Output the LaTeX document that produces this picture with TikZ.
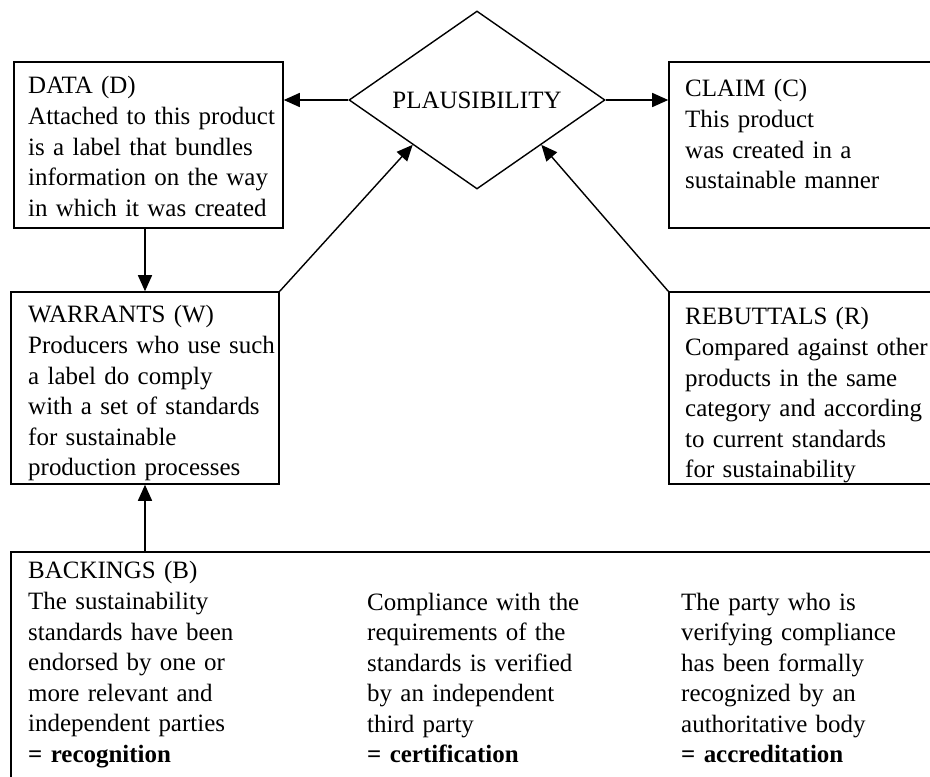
\documentclass[tikz,border=0pt]{standalone}
\usepackage{fontspec}
\setmainfont{Liberation Serif}
\usetikzlibrary{shapes.geometric,arrows.meta}

\begin{document}
\begin{tikzpicture}[font=\fontsize{21.3}{26.1}\selectfont,
  box/.style={draw, line width=1.3pt, inner sep=0pt},
  txt/.style={anchor=base west, inner sep=0pt, align=left, text width=8cm},
  arr/.style={-{Triangle[length=4.8mm,width=4.2mm]}, line width=1.2pt}]
\clip (0,0) rectangle (27.9,23.28);
\node[diamond, draw, line width=1.2pt, aspect=1.44, minimum width=7.68cm,
  minimum height=5.34cm, inner sep=0pt] (plaus) at (14.31,20.28) {PLAUSIBILITY};
\node[box, minimum width=8.07cm, minimum height=4.98cm] (data) at (4.455,18.93) {};
\node[box, minimum width=8.07cm, minimum height=4.98cm] (claim) at (24.105,18.93) {};
\node[box, minimum width=8.04cm, minimum height=5.76cm] (warr) at (4.35,11.64) {};
\node[box, minimum width=8.04cm, minimum height=5.76cm] (rebut) at (24.09,11.64) {};
\node[box, minimum width=27.87cm, minimum height=7.02cm] (back) at (14.265,3.21) {};
\node[txt] (dataT) at (0.84,20.46) {DATA (D)\\Attached to this product\\is a label that bundles\\information on the way\\in which it was created};
\node[txt] (claimT) at (20.55,20.37) {CLAIM (C)\\This product\\was created in a\\sustainable manner};
\node[txt] (warrT) at (0.84,13.59) {WARRANTS (W)\\Producers who use such\\a label do comply\\with a set of standards\\for sustainable\\production processes};
\node[txt] (rebutT) at (20.55,13.53) {REBUTTALS (R)\\Compared against other\\products in the same\\category and according\\to current standards\\for sustainability};
\node[txt] (backT) at (0.84,5.91) {BACKINGS (B)\\The sustainability\\standards have been\\endorsed by one or\\more relevant and\\independent parties\\\textbf{= recognition}};
\node[txt] (certT) at (11.01,4.98) {Compliance with the\\requirements of the\\standards is verified\\by an independent\\third party\\\textbf{= certification}};
\node[txt] (accrT) at (20.43,4.98) {The party who is\\verifying compliance\\has been formally\\recognized by an\\authoritative body\\\textbf{= accreditation}};
\draw[arr] (plaus.west) -- (plaus.west -| data.east);
\draw[arr] (plaus.east) -- (plaus.east -| claim.west);
\draw[arr] (warr.north |- data.south) -- (warr.north);
\draw[arr] (warr.north east) -- (plaus.south west);
\draw[arr] (rebut.north west) -- (plaus.south east);
\draw[arr] (warr.south |- back.north) -- (warr.south);
\end{tikzpicture}
\end{document}
